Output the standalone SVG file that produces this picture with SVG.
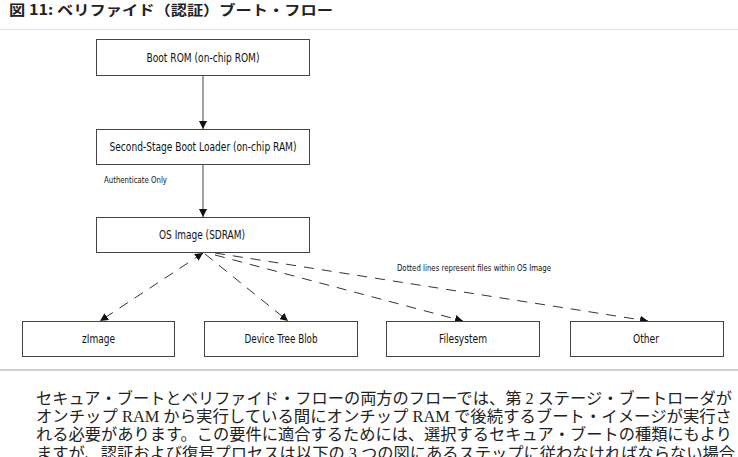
<svg xmlns="http://www.w3.org/2000/svg" width="738" height="457" viewBox="0 0 738 457">
<style>
.box{fill:#fff;stroke:#444;stroke-width:1}
.lbl{font-family:"DejaVu Sans Condensed","Liberation Sans",sans-serif;font-size:12px;fill:#111;text-anchor:middle}
.small{font-family:"DejaVu Sans Condensed","Liberation Sans",sans-serif;font-size:9.5px;fill:#111}
.solid{stroke:#444;stroke-width:1;fill:none}
.dash{stroke:#333;stroke-width:1;fill:none;stroke-dasharray:10 8}
.title{font-family:"Noto Sans CJK JP",sans-serif;font-weight:bold;font-size:14px;fill:#222}
.body{font-family:"Liberation Serif","Noto Sans CJK JP",serif;font-size:16px;fill:#222}
</style>
<defs>
<marker id="ah" markerUnits="userSpaceOnUse" markerWidth="8" markerHeight="8" refX="8" refY="4" orient="auto">
<path d="M0,0 L8,4 L0,8 z" fill="#111"/>
</marker>
<marker id="ahs" markerUnits="userSpaceOnUse" markerWidth="8" markerHeight="8" refX="8" refY="4" orient="auto-start-reverse">
<path d="M0,0 L8,4 L0,8 z" fill="#111"/>
</marker>
</defs>
<rect width="738" height="457" fill="#fff"/>
<text class="title" x="9" y="15" textLength="324" lengthAdjust="spacingAndGlyphs">図 11: ベリファイド（認証）ブート・フロー</text>
<line x1="0" y1="29.5" x2="738" y2="29.5" stroke="#e2e2e2" stroke-width="1"/>

<g id="connectors">
<line class="solid" x1="203" y1="75" x2="203" y2="129" marker-end="url(#ah)"/>
<line class="solid" x1="203" y1="164" x2="203" y2="217" marker-end="url(#ah)"/>
<line class="dash" x1="203" y1="253" x2="100" y2="321" marker-start="url(#ahs)" marker-end="url(#ah)"/>
<line class="dash" x1="205" y1="254" x2="288" y2="321" marker-end="url(#ah)"/>
<line class="dash" x1="215" y1="255" x2="463" y2="321" marker-end="url(#ah)"/>
<line class="dash" x1="215" y1="253" x2="648" y2="321" marker-end="url(#ah)"/>
</g>

<g id="boot-rom">
<rect class="box" x="96.5" y="39.5" width="213" height="36"/>
<text class="lbl" x="203" y="62" textLength="113" lengthAdjust="spacingAndGlyphs">Boot ROM (on-chip ROM)</text>
</g>
<g id="second-stage">
<rect class="box" x="96.5" y="129.5" width="213" height="35"/>
<text class="lbl" x="203" y="151" textLength="187" lengthAdjust="spacingAndGlyphs">Second-Stage Boot Loader (on-chip RAM)</text>
</g>
<text class="small" x="104" y="183" textLength="63" lengthAdjust="spacingAndGlyphs">Authenticate Only</text>
<g id="os-image">
<rect class="box" x="96.5" y="217.5" width="213" height="35"/>
<text class="lbl" x="202" y="239" textLength="86" lengthAdjust="spacingAndGlyphs">OS Image (SDRAM)</text>
</g>
<text class="small" x="397" y="271" textLength="154" lengthAdjust="spacingAndGlyphs">Dotted lines represent files within OS Image</text>
<g id="zimage">
<rect class="box" x="22.5" y="321.5" width="152" height="35"/>
<text class="lbl" x="98.5" y="343" textLength="33" lengthAdjust="spacingAndGlyphs">zImage</text>
</g>
<g id="device-tree-blob">
<rect class="box" x="204.5" y="321.5" width="153" height="35"/>
<text class="lbl" x="281" y="343" textLength="73" lengthAdjust="spacingAndGlyphs">Device Tree Blob</text>
</g>
<g id="filesystem">
<rect class="box" x="386.5" y="321.5" width="153" height="35"/>
<text class="lbl" x="463" y="343" textLength="48" lengthAdjust="spacingAndGlyphs">Filesystem</text>
</g>
<g id="other">
<rect class="box" x="570.5" y="321.5" width="153" height="35"/>
<text class="lbl" x="646" y="343" textLength="26" lengthAdjust="spacingAndGlyphs">Other</text>
</g>

<line x1="0" y1="370" x2="738" y2="370" stroke="#d0d0d0" stroke-width="2"/>
<text class="body" x="36" y="404" textLength="696" lengthAdjust="spacingAndGlyphs">セキュア・ブートとベリファイド・フローの両方のフローでは、第 2 ステージ・ブートローダが</text>
<text class="body" x="36" y="422" textLength="696" lengthAdjust="spacingAndGlyphs">オンチップ RAM から実行している間にオンチップ RAM で後続するブート・イメージが実行さ</text>
<text class="body" x="36" y="440" textLength="696" lengthAdjust="spacingAndGlyphs">れる必要があります。この要件に適合するためには、選択するセキュア・ブートの種類にもより</text>
<text class="body" x="36" y="459" textLength="699" lengthAdjust="spacingAndGlyphs">ますが、認証および復号プロセスは以下の 3 つの図にあるステップに従わなければならない場合</text>
</svg>
